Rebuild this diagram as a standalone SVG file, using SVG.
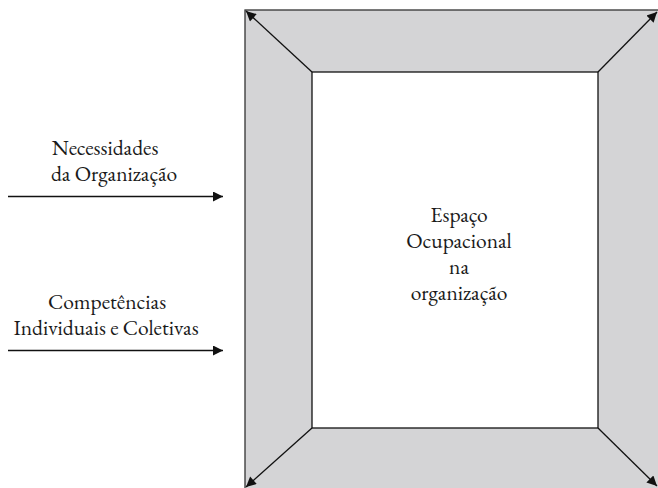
<svg xmlns="http://www.w3.org/2000/svg" width="658" height="488" viewBox="0 0 658 488">
<style>
.ln{stroke:#111;stroke-width:1.3;fill:none}
</style>
<defs>
<marker id="ah2" viewBox="0 0 10 10" refX="10" refY="5" markerWidth="14" markerHeight="10" markerUnits="userSpaceOnUse" orient="auto">
<path d="M0,0 L10,5 L0,10 z" fill="#111"/>
</marker>
</defs>
<g id="frame">
<rect x="245" y="10" width="420" height="485" fill="#d4d4d6" stroke="#333" stroke-width="1.3"/>
<rect x="312" y="72" width="286" height="356" fill="#fff" stroke="#111" stroke-width="1.3"/>
</g>
<g font-family="EB Garamond, Liberation Serif, serif" font-size="21.5" fill="#1a1a1a" text-anchor="middle">
<g id="center-label">
<text x="459" y="222">Espaço</text>
<text x="459" y="248">Ocupacional</text>
<text x="459" y="274">na</text>
<text x="459" y="300">organização</text>
</g>
<g id="input1">
<text x="105" y="155">Necessidades</text>
<text x="114" y="181">da Organização</text>
</g>
<g id="input2">
<text x="107" y="309">Competências</text>
<text x="106" y="335">Individuais e Coletivas</text>
</g>
</g>
<g id="connectors">
<line class="ln" x1="8" y1="196.5" x2="223" y2="196.5" marker-end="url(#ah2)"/>
<line class="ln" x1="8" y1="350.5" x2="223" y2="350.5" marker-end="url(#ah2)"/>
<line class="ln" x1="312" y1="72" x2="246" y2="11" marker-end="url(#ah2)"/>
<line class="ln" x1="598" y1="72" x2="657" y2="12" marker-end="url(#ah2)"/>
<line class="ln" x1="312" y1="428" x2="246" y2="487" marker-end="url(#ah2)"/>
<line class="ln" x1="598" y1="428" x2="657" y2="486" marker-end="url(#ah2)"/>
</g>
</svg>
